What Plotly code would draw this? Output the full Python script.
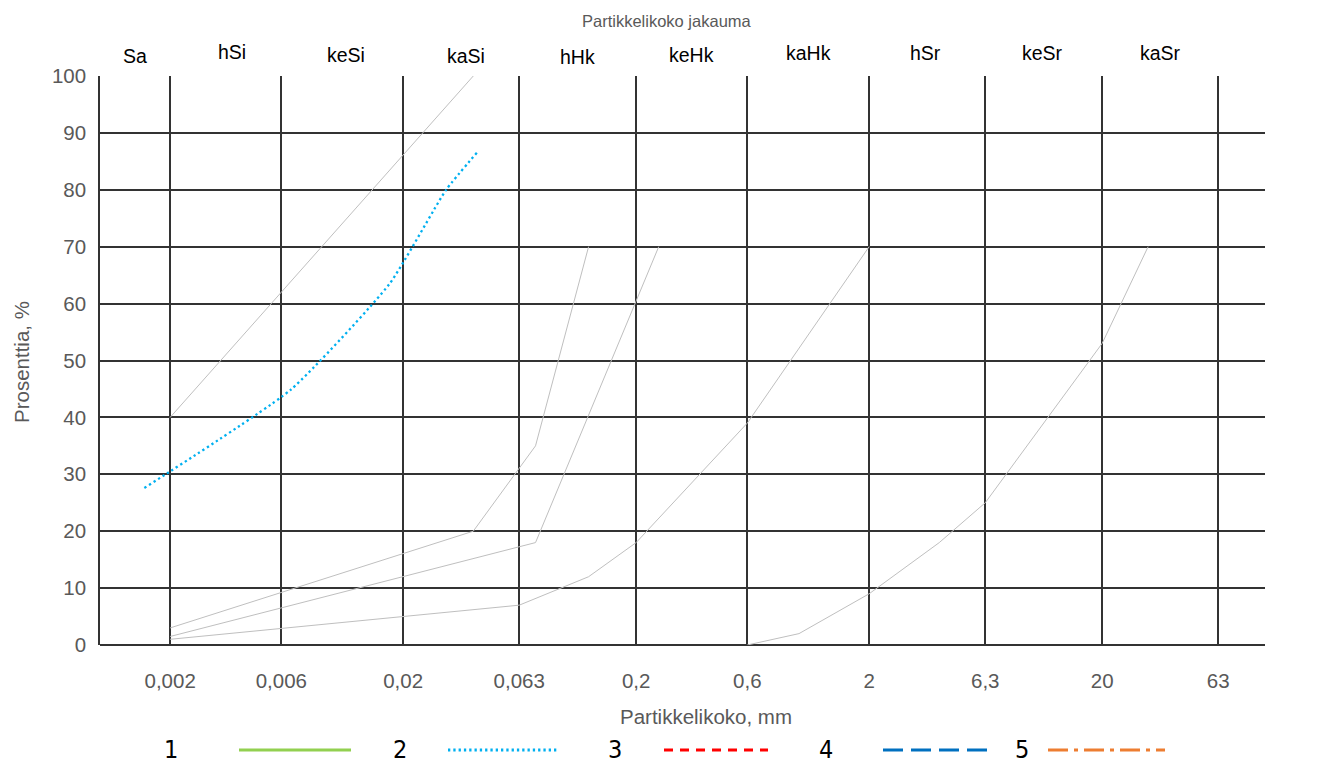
import math
import plotly.graph_objects as go

# ---------------- data ----------------
tick_sizes = [0.002, 0.006, 0.02, 0.063, 0.2, 0.6, 2, 6.3, 20, 63]
tick_labels = ["0,002", "0,006", "0,02", "0,063", "0,2", "0,6", "2", "6,3", "20", "63"]
class_bounds = [0.001, 0.002, 0.006, 0.02, 0.063, 0.2, 0.6, 2, 6.3, 20, 63]
class_labels = ["Sa", "hSi", "keSi", "kaSi", "hHk", "keHk", "kaHk", "hSr", "keSr", "kaSr"]

# grey guide curves
env_a_x = [0.002, 0.04]
env_a_y = [40, 100]
env_b_x = [0.002, 0.04, 0.074, 0.125]
env_b_y = [3, 20, 35, 70]
env_c_x = [0.002, 0.074, 0.25]
env_c_y = [1.5, 18, 70]
env_d_x = [0.002, 0.063, 0.125, 0.2, 0.6, 2]
env_d_y = [1, 7, 12, 18, 39, 70]
env_e_x = [0.6, 1, 2, 4, 6.3, 20, 31.5]
env_e_y = [0, 2, 9, 18, 25, 53, 70]

# samples
series_names = ["1", "2", "3", "4", "5"]
s1_x, s1_y = [], []
s2_x = [0.00155, 0.0066, 0.0175, 0.0306, 0.042]
s2_y = [27.6, 44.9, 63.5, 80, 86.8]
s3_x, s3_y = [], []
s4_x, s4_y = [], []
s5_x, s5_y = [], []

# ---------------- layout constants ----------------
OFF = 8                      # page body margin
W, H = 1302, 758
ML, MR, MT, MB = 92, 45, 68, 121
PW, PH = W - ML - MR, H - MT - MB
GRID = "#333333"
GREY_TXT = "#595959"
FONT = "Liberation Sans, Arial, sans-serif"
NARROW = "Liberation Sans Narrow, DejaVu Sans Condensed, Arial Narrow, sans-serif"


def px(x):
    return (x - OFF - ML) / PW


def py(y):
    return (MT + PH - (y - OFF)) / PH


fig = go.Figure()

for ex, ey in [(env_a_x, env_a_y), (env_b_x, env_b_y), (env_c_x, env_c_y),
               (env_d_x, env_d_y), (env_e_x, env_e_y)]:
    fig.add_trace(go.Scatter(x=ex, y=ey, mode="lines", showlegend=False,
                             line=dict(color="#BFBFBF", width=1), hoverinfo="skip"))

styles = [
    dict(color="#92D050", width=3, dash="solid"),
    dict(color="#00B0F0", width=2.3, dash="2.3px,3px"),
    dict(color="#FF0000", width=3, dash="9px,7px"),
    dict(color="#0070C0", width=3, dash="20px,8px"),
    dict(color="#ED7D31", width=3, dash="20px,6px,4px,6px"),
]
series = [(s1_x, s1_y), (s2_x, s2_y), (s3_x, s3_y), (s4_x, s4_y), (s5_x, s5_y)]
for name, (sx, sy), st in zip(series_names, series, styles):
    lw = dict(st)
    if name == "2":
        lw["shape"] = "spline"
        lw["smoothing"] = 0.5
    fig.add_trace(go.Scatter(x=sx, y=sy, mode="lines", name=name, showlegend=False,
                             line=lw))

annotations = []
# fraction labels above plot (geometric midpoints of class bounds)
label_shift = [0, 6, 4, 5, 0, 0, 0, -2, -1, 0]
label_ypx = [56, 52, 55, 56, 57, 55, 53, 53, 53, 53]
for i, lab in enumerate(class_labels):
    mid = (math.log10(class_bounds[i]) + math.log10(class_bounds[i + 1])) / 2
    annotations.append(dict(x=mid, xref="x", y=py(label_ypx[i]), yref="paper",
                            text=lab, showarrow=False, xshift=label_shift[i],
                            font=dict(family=FONT, size=19.5, color="#000000"),
                            xanchor="center", yanchor="middle"))

annotations.append(dict(x=px(667), y=py(21), xref="paper", yref="paper",
                        text="Partikkelikoko jakauma", showarrow=False,
                        xanchor="center", yanchor="middle",
                        font=dict(family=FONT, size=16.5, color=GREY_TXT)))
annotations.append(dict(x=px(706), y=py(716), xref="paper", yref="paper",
                        text="Partikkelikoko, mm", showarrow=False,
                        xanchor="center", yanchor="middle",
                        font=dict(family=FONT, size=20.5, color=GREY_TXT)))
annotations.append(dict(x=px(22), y=py(362), xref="paper", yref="paper",
                        text="Prosenttia, %", showarrow=False, textangle=-90,
                        xanchor="center", yanchor="middle",
                        font=dict(family=FONT, size=20.5, color=GREY_TXT)))

# custom legend (number left of the line sample)
leg_num_x = [171, 400, 615, 826, 1022]
leg_line_x = [(239, 351), (448, 558), (664, 768), (883, 993), (1048, 1165)]
leg_y = 750
shapes = []
for name, nx, (x0, x1), st in zip(series_names, leg_num_x, leg_line_x, styles):
    annotations.append(dict(x=px(nx), y=py(leg_y - 1), xref="paper", yref="paper",
                            text=name, showarrow=False,
                            xanchor="center", yanchor="middle",
                            font=dict(family=NARROW, size=25, color="#000000")))
    shapes.append(dict(type="line", xref="paper", yref="paper",
                       x0=px(x0), x1=px(x1), y0=py(leg_y), y1=py(leg_y),
                       line=dict(color=st["color"], width=3, dash=st["dash"])))

fig.update_layout(
    width=W, height=H,
    margin=dict(l=ML, r=MR, t=MT, b=MB),
    paper_bgcolor="white", plot_bgcolor="white",
    annotations=annotations, shapes=shapes,
    showlegend=False,
    font=dict(family=FONT),
)
fig.update_xaxes(type="log", range=[-3, 2], tickvals=tick_sizes, ticktext=tick_labels,
                 showgrid=True, gridcolor=GRID, gridwidth=1.5, showline=False,
                 zeroline=False, ticks="", ticklabelstandoff=21,
                 tickfont=dict(family=FONT, size=20.5, color=GREY_TXT))
fig.update_yaxes(range=[0, 100], dtick=10, tick0=0, showgrid=True, gridcolor=GRID,
                 gridwidth=1.5, showline=True, linecolor=GRID, linewidth=1.5,
                 zeroline=True, zerolinecolor=GRID, zerolinewidth=1.5,
                 ticks="", ticklabelstandoff=8,
                 tickfont=dict(family=FONT, size=20.5, color=GREY_TXT))

fig.write_html("out.html")
